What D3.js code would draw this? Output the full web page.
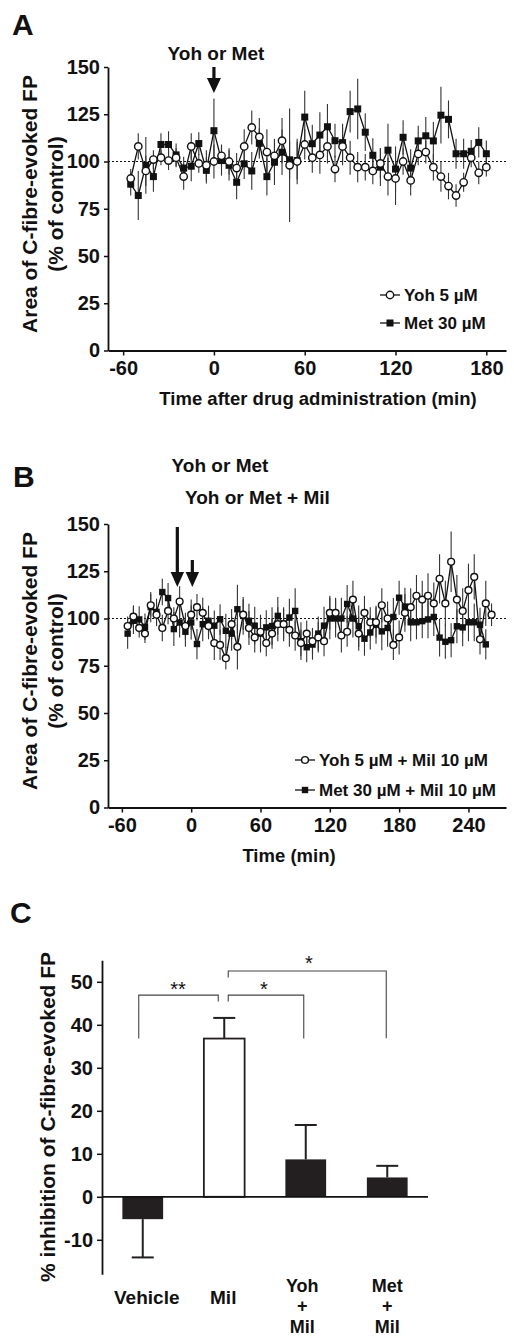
<!DOCTYPE html>
<html><head><meta charset="utf-8">
<script src="https://cdn.jsdelivr.net/npm/d3@7"></script>
<style>body{margin:0;background:#fff}svg{display:block}</style>
</head><body><svg id="c" width="514" height="1338"></svg>
<script>
// ---------------- DATA ----------------
// Panel A: time (min) after drug administration
const timeA = [-55,-50,-45,-40,-35,-30,-25,-20,-15,-10,-5,0,5,10,15,20,25,30,35,40,45,50,55,60,65,70,75,80,85,90,95,100,105,110,115,120,125,130,135,140,145,150,155,160,165,170,175,180];
const yohA    = [91,108,95,101,102,100.5,102,92,108,99,98,100,103,100,96.5,108,118,113,105,103,111,98,100,109,102,103.5,108,96,108,102,97,97,95,99,92,91,100,90,104,105,97,92,87,82,89,102,94,97];
const yohAErr = [5,7,8,5,4,5,5,7,7,5,8,9,6,7,8,9,9,10,12,9,12,30,12,8,8,10,9,7,10,9,8,7,7,8,10,14,7,8,6,6,7,8,7,6,5,5,6,5];
const metA    = [88,82,98,92,109,109,103.5,96.5,97.5,109.5,95.3,116.3,100.5,98,89,98.8,95,109.6,92,99.6,104.9,100.9,100.5,123.5,109.4,114,118.4,111,110,126.4,127.8,115.5,103.3,97,106,96,112.8,96.5,110.9,113.6,110.9,124.5,122.3,104.1,104.1,105.4,110.1,104.1];
const metAErr = [6,13,15,8,6,7,6,6,8,6,7,17,8,8,9,8,10,8,10,12,12,10,10,14,10,12,12,9,10,11,16,10,9,10,14,12,9,10,8,10,10,15,10,8,8,6,8,7];

// Panel B: time (min)
const timeBYoh = [-55,-50,-45,-40,-35,-30,-25,-20,-15,-10,-5,0,5,10,15,20,25,30,35,40,45,50,55,60,65,70,75,80,85,90,95,100,105,110,115,120,125,130,135,140,145,150,155,160,165,170,175,180,185,190,195,200,205,210,215,220,225,230,235,240,245,250,255,260];
const yohB    = [96,101,95,92,107,102,95,104,100,109,96,102,106,103,96,87,86,79,97,85,102,95,90,93,87,92,97,97,94,91,87,92,88,90,88,103,103,91,93,110,92,103,98,98,107,100,86,90,103,106,112,110,112,108,121,108,130,110,104,115,122,89,108,102];
const yohBErr = [5,6,5,5,6,6,7,7,6,8,7,8,7,8,7,9,8,6,8,12,8,9,8,8,7,8,9,8,9,8,7,7,7,8,8,9,8,9,8,10,9,9,8,8,9,9,8,9,10,10,11,10,12,11,13,12,16,13,12,14,12,8,12,6];
const timeBMet = [-55,-50,-45,-40,-35,-30,-25,-20,-15,-10,-5,0,5,10,15,20,25,30,35,40,45,50,55,60,65,70,75,80,85,90,95,100,105,110,115,120,125,130,135,140,145,150,155,160,165,170,175,180,185,190,195,200,205,210,215,220,225,230,235,240,245,250,255];
const metB    = [92,98.8,99.5,95.6,106,103.5,114,110.8,94.4,97.9,93,97.9,86.5,97,98.8,96.2,99.6,93.5,92,104.9,101.4,98.8,96.2,92,95.3,96,101.4,97,100.5,104,88,84.8,86.2,92,96.2,100,100,100,107.7,100,95.9,89.3,92.6,96.7,93.2,95,100.8,111,106.3,98,98,98.6,99.5,100.8,89.9,87.7,88.5,95.9,95.3,98,98,96.7,86.3];
const metBErr = [8,7,7,7,8,7,7,8,9,8,8,9,8,9,8,8,8,9,9,13,10,9,10,10,9,10,10,9,10,12,10,8,8,9,10,11,10,11,10,10,11,9,9,10,10,10,10,9,10,10,9,9,10,10,10,9,9,9,10,10,10,9,8];

// Panel C
const groupsC = ["Vehicle","Mil","Yoh + Mil","Met + Mil"];
const labelLinesC = [["Vehicle"],["Mil"],["Yoh","+","Mil"],["Met","+","Mil"]];
const valuesC = [-5.2, 36.8, 8.7, 4.5];
const errorsC = [8.9, 4.8, 8.0, 2.7];
const filledC = [true, false, true, true];

// Tick labels
const yTicksAB = [0,25,50,75,100,125,150];
const xTicksA = [-60,0,60,120,180];
const xTicksB = [-60,0,60,120,180,240];
const yTicksC = [-10,0,10,20,30,40,50];

// ---------------- DRAWING ----------------
const FONT = '"Liberation Sans", Arial, Helvetica, sans-serif';
const svg = d3.select("#c");
svg.append("rect").attr("width",514).attr("height",1338).attr("fill","#fff");

function txt(g, s, x, y, size, opts={}) {
  return g.append("text").attr("x",x).attr("y",y).text(s)
    .attr("font-family",FONT).attr("font-size",size)
    .attr("font-weight", opts.weight || "bold")
    .attr("text-anchor", opts.anchor || "start")
    .attr("fill","#111");
}

function styleAxis(ax, size) {
  ax.attr("font-family",FONT).attr("font-size",size).attr("font-weight","bold");
  ax.select(".domain").attr("stroke","#111").attr("stroke-width",1.8);
  ax.selectAll(".tick line").attr("stroke","#111").attr("stroke-width",1.5);
  ax.selectAll(".tick text").attr("fill","#111");
}

function arrow(g, x, yTop, yHeadTop, yTip, half) {
  g.append("line").attr("x1",x).attr("x2",x).attr("y1",yTop).attr("y2",yHeadTop+2)
    .attr("stroke","#111").attr("stroke-width",3.2);
  g.append("path").attr("d",`M${x-half},${yHeadTop}L${x+half},${yHeadTop}L${x},${yTip}Z`).attr("fill","#111");
}

function timePanel(o) {
  const g = svg.append("g");
  const x = d3.scaleLinear().domain(o.xDomain).range([108, 506]);
  const y = d3.scaleLinear().domain([0,150]).range([o.y0, o.y0 - 283.5]);

  // reference dashed line at 100 %
  g.append("line").attr("x1",108).attr("x2",506).attr("y1",y(100)).attr("y2",y(100))
    .attr("stroke","#111").attr("stroke-width",1).attr("stroke-dasharray","2,2");

  const sets = o.series.map(s => s.times.map((t,i)=>({t, v:s.values[i], e:s.err[i]})));
  // error bars
  sets.forEach(d => {
    g.append("g").selectAll("line").data(d).join("line")
      .attr("x1",p=>x(p.t)).attr("x2",p=>x(p.t))
      .attr("y1",p=>y(p.v-p.e)).attr("y2",p=>y(p.v+p.e))
      .attr("stroke","#333").attr("stroke-width",1.1);
  });
  const line = d3.line().x(p=>x(p.t)).y(p=>y(p.v));
  // Met (squares) first, then Yoh (circles)
  [1,0].forEach(k => {
    const d = sets[k];
    g.append("path").datum(d).attr("d",line).attr("fill","none").attr("stroke","#111").attr("stroke-width",1.3);
    if (o.series[k].shape === "circle") {
      g.append("g").selectAll("circle").data(d).join("circle")
        .attr("cx",p=>x(p.t)).attr("cy",p=>y(p.v)).attr("r",o.r)
        .attr("fill","#fff").attr("stroke","#111").attr("stroke-width",1.4);
    } else {
      g.append("g").selectAll("rect").data(d).join("rect")
        .attr("x",p=>x(p.t)-o.sq/2).attr("y",p=>y(p.v)-o.sq/2).attr("width",o.sq).attr("height",o.sq)
        .attr("fill","#111");
    }
  });

  // axes
  const ay = g.append("g").attr("transform","translate(108,0)")
    .call(d3.axisLeft(y).tickValues(yTicksAB).tickSize(4).tickSizeOuter(0).tickPadding(4).tickFormat(d=>String(d)));
  styleAxis(ay, 20);
  const ax = g.append("g").attr("transform",`translate(0,${o.y0})`)
    .call(d3.axisBottom(x).tickValues(o.xTicks).tickSize(5).tickSizeOuter(0).tickPadding(5).tickFormat(d=>String(d)));
  styleAxis(ax, 20);

  // y title
  const yc = o.y0 - 146.5;
  g.append("text").attr("transform",`translate(37,${yc}) rotate(-90)`).attr("text-anchor","middle")
    .attr("font-family",FONT).attr("font-size",21).attr("font-weight","bold").attr("fill","#111")
    .text("Area of C-fibre-evoked FP");
  g.append("text").attr("transform",`translate(63,${yc}) rotate(-90)`).attr("text-anchor","middle")
    .attr("font-family",FONT).attr("font-size",21).attr("font-weight","bold").attr("fill","#111")
    .text("(% of control)");
  // x title
  txt(g, o.xTitle, o.xTitleX, o.y0 + 54, 18.5, {anchor:"middle"});

  // legend
  o.legend.forEach((L,i) => {
    const ly = o.legendY[i];
    g.append("line").attr("x1",o.legendX-10).attr("x2",o.legendX+10).attr("y1",ly).attr("y2",ly)
      .attr("stroke","#111").attr("stroke-width",1.3);
    if (o.series[i].shape === "circle")
      g.append("circle").attr("cx",o.legendX).attr("cy",ly).attr("r",o.r).attr("fill","#fff").attr("stroke","#111").attr("stroke-width",1.4);
    else
      g.append("rect").attr("x",o.legendX-o.sq/2).attr("y",ly-o.sq/2).attr("width",o.sq).attr("height",o.sq).attr("fill","#111");
    txt(g, L, o.legendX+14, ly+6, 17);
  });
  return {g, x, y};
}

// Panel A
txt(svg, "A", 12, 35, 30);
const pA = timePanel({
  xDomain:[-70,193], y0:350.5, xTicks:xTicksA, r:3.7, sq:7,
  series:[{times:timeA, values:yohA, err:yohAErr, shape:"circle"},
          {times:timeA, values:metA, err:metAErr, shape:"square"}],
  xTitle:"Time after drug administration (min)", xTitleX:318,
  legend:["Yoh 5 \u00B5M","Met 30 \u00B5M"], legendX:390, legendY:[295,323]
});
txt(pA.g, "Yoh or Met", pA.x(0)+2, 60, 19, {anchor:"middle"});
arrow(pA.g, pA.x(0), 67, 78, 93, 7);

// Panel B
txt(svg, "B", 13, 487, 30);
const pB = timePanel({
  xDomain:[-72,272.5], y0:807.5, xTicks:xTicksB, r:3.4, sq:6.4,
  series:[{times:timeBYoh, values:yohB, err:yohBErr, shape:"circle"},
          {times:timeBMet, values:metB, err:metBErr, shape:"square"}],
  xTitle:"Time (min)", xTitleX:289,
  legend:["Yoh 5 \u00B5M + Mil 10 \u00B5M","Met 30 \u00B5M + Mil 10 \u00B5M"], legendX:305, legendY:[760,790]
});
txt(pB.g, "Yoh or Met", 220, 472, 19, {anchor:"middle"});
txt(pB.g, "Yoh or Met + Mil", 185, 504, 19);
arrow(pB.g, pB.x(-12), 527, 572, 587, 6.7);
arrow(pB.g, pB.x(1), 560, 572, 587, 6.7);

// Panel C
txt(svg, "C", 10, 923, 30);
const gC = svg.append("g");
const xC = d3.scaleBand().domain(groupsC).range([102,428]).paddingInner(0.5).paddingOuter(0.25);
const yC = d3.scaleLinear().domain([-18,55]).range([1274.2, 960.3]);
const dC = groupsC.map((k,i)=>({k, v:valuesC[i], e:errorsC[i], f:filledC[i], lines:labelLinesC[i]}));

// error bars (one-sided, away from zero)
gC.selectAll("line.err").data(dC).join("line").attr("class","err")
  .attr("x1",d=>xC(d.k)+xC.bandwidth()/2).attr("x2",d=>xC(d.k)+xC.bandwidth()/2)
  .attr("y1",d=>yC(d.v)).attr("y2",d=>yC(d.v + Math.sign(d.v)*d.e))
  .attr("stroke","#231f20").attr("stroke-width",2);
gC.selectAll("line.cap").data(dC).join("line").attr("class","cap")
  .attr("x1",d=>xC(d.k)+xC.bandwidth()/2-11).attr("x2",d=>xC(d.k)+xC.bandwidth()/2+11)
  .attr("y1",d=>yC(d.v + Math.sign(d.v)*d.e)).attr("y2",d=>yC(d.v + Math.sign(d.v)*d.e))
  .attr("stroke","#231f20").attr("stroke-width",2);
// bars
gC.selectAll("rect.bar").data(dC).join("rect").attr("class","bar")
  .attr("x",d=>xC(d.k)).attr("width",xC.bandwidth())
  .attr("y",d=>yC(Math.max(0,d.v))).attr("height",d=>Math.abs(yC(d.v)-yC(0)))
  .attr("fill",d=>d.f?"#231f20":"#fff").attr("stroke","#231f20").attr("stroke-width",d=>d.f?0:1.8);

// axes
const ayC = gC.append("g").attr("transform","translate(102,0)")
  .call(d3.axisLeft(yC).tickValues(yTicksC).tickSize(5).tickSizeOuter(0).tickPadding(4).tickFormat(d=>String(d)));
styleAxis(ayC, 20);
gC.append("line").attr("x1",102).attr("x2",428).attr("y1",yC(0)).attr("y2",yC(0))
  .attr("stroke","#111").attr("stroke-width",1.8);

// category labels
const nudgeC = [4, -1, -3.5, 0];
const firstBaseC = [1304, 1304, 1292, 1292];
const lineStepC = 20.3;
dC.forEach((d,i) => {
  const cxl = xC(d.k)+xC.bandwidth()/2+nudgeC[i];
  d.lines.forEach((s,j) => {
    txt(gC, s, cxl, firstBaseC[i] + j*lineStepC, d.lines.length > 1 ? 18 : 19, {anchor:"middle"});
  });
});

// y title
gC.append("text").attr("transform","translate(55,1117) rotate(-90)").attr("text-anchor","middle")
  .attr("font-family",FONT).attr("font-size",21).attr("font-weight","bold").attr("fill","#111")
  .text("% inhibition of C-fibre-evoked FP");

// significance brackets
const cx = k => xC(k)+xC.bandwidth()/2;
function bracket(x1, y1a, x2, y2a, yTop, label, lx, ly) {
  gC.append("path").attr("d",`M${x1},${y1a}V${yTop}H${x2}V${y2a}`)
    .attr("fill","none").attr("stroke","#444").attr("stroke-width",1.1);
  txt(gC, label, lx, ly, 20, {anchor:"middle", weight:"normal"});
}
bracket(cx("Vehicle")-4, yC(36.8), cx("Mil")-6, yC(45.4), yC(46.9), "**", 178, 996);
bracket(cx("Mil")+4, yC(45.4), cx("Yoh + Mil")-2, yC(36.8), yC(46.9), "*", 264, 996);
bracket(cx("Mil")+4, yC(51.0), cx("Met + Mil")-1, yC(36.9), yC(52.5), "*", 309, 970);
</script></body></html>
